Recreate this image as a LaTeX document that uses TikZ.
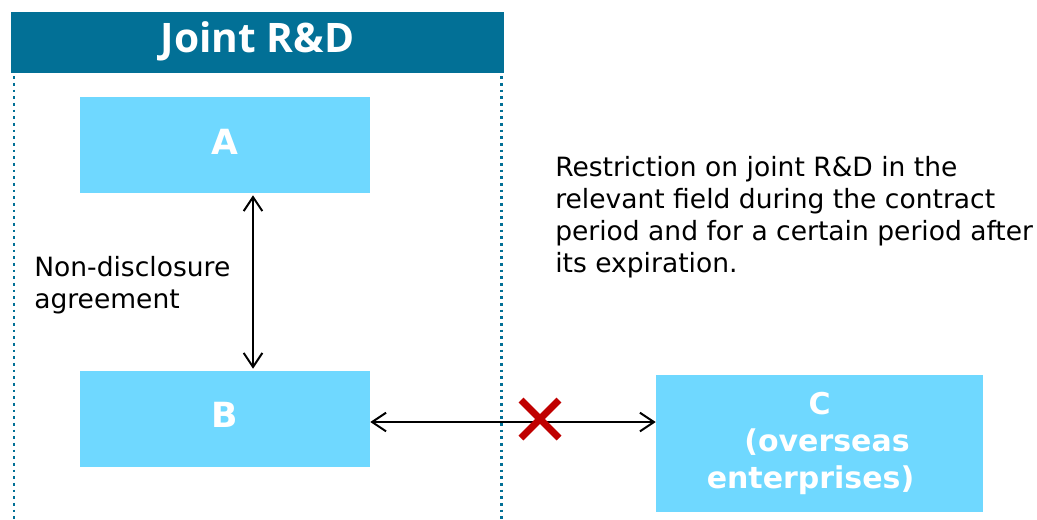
\documentclass[tikz,border=0pt]{standalone}
\usepackage{fontspec}
\setmainfont{DejaVu Sans}
\newfontfamily\headfont{Open Sans}
\usetikzlibrary{arrows.meta,calc}
\definecolor{headblue}{RGB}{2,112,150}
\definecolor{boxblue}{RGB}{111,216,255}
\definecolor{xred}{RGB}{192,0,0}
\begin{document}
\begin{tikzpicture}[x=0.75pt,y=-0.75pt,
  box/.style={fill=boxblue, draw=none, inner sep=0pt},
  boxlbl/.style={text=white, inner sep=0pt, font=\bfseries\fontsize{26}{30}\selectfont},
  divider/.style={headblue, line width=2pt, dash pattern=on 2pt off 3pt},
  conn/.style={line width=1.5pt, {Straight Barb[length=10.5pt,width=14pt]}-{Straight Barb[length=10.5pt,width=14pt]}},
  xmark/.style={xred, line width=5.25pt},
  plain/.style={inner sep=0pt, align=left, font=\fontsize{19.9}{24}\selectfont}]
\useasboundingbox (0,0) rectangle (1037,519);
% header
\node[fill=headblue, minimum width=369.75pt, minimum height=45.75pt, inner sep=0pt, anchor=north west] (head) at (11,12) {};
\node[text=white, inner sep=0pt, font=\headfont\bfseries\fontsize{30.5}{36}\selectfont, anchor=base] (headtxt) at (257.5,52) {Joint R\&D};
% dotted borders
\draw[divider] ([xshift=2.25pt,yshift=-2pt]head.south west) -- ++(0,446);
\draw[divider] ([xshift=-2.5pt,yshift=-2pt]head.south east) -- ++(0,446);
% boxes
\node[box, minimum width=217.5pt, minimum height=72pt] (A) at (225,145) {};
\node[box, minimum width=217.5pt, minimum height=72pt] (B) at (225,419) {};
\node[box, minimum width=245.25pt, minimum height=102.75pt] (C) at (819.5,443.5) {};
\node[boxlbl, anchor=base] (Alab) at ($(A.center)+(0,9)$) {A};
\node[boxlbl, anchor=base] (Blab) at ($(B.center)+(0,8)$) {B};
\node[text=white, inner sep=0pt, align=center, font=\bfseries\fontsize{22.5}{28}\selectfont] (Clab) at ($(C.center)+(0,0)$) {C\\\hspace*{0.5em}(overseas\\enterprises)\hspace*{0.6em}};
% connectors
\draw[conn, shorten <=1.5pt, shorten >=1.5pt] ($(A.south)+(28,0)$) -- ($(B.north)+(28,0)$);
\coordinate (hy) at (0,422);
\draw[conn] (B.east |- hy) -- (C.west |- hy);
% cross
\coordinate (cross) at (540,419);
\draw[xmark] ($(cross)+(-19,-19)$) -- ($(cross)+(19,19)$);
\draw[xmark] ($(cross)+(-19,19)$) -- ($(cross)+(19,-19)$);
% texts
\node[plain, anchor=base west] (nda) at (34,308) {Non-disclosure\\agreement};
\node[plain, anchor=base west] (note) at (555,272) {Restriction on joint R\&D in the\\relevant field during the contract\\period and for a certain period after\\its expiration.};
\end{tikzpicture}
\end{document}
